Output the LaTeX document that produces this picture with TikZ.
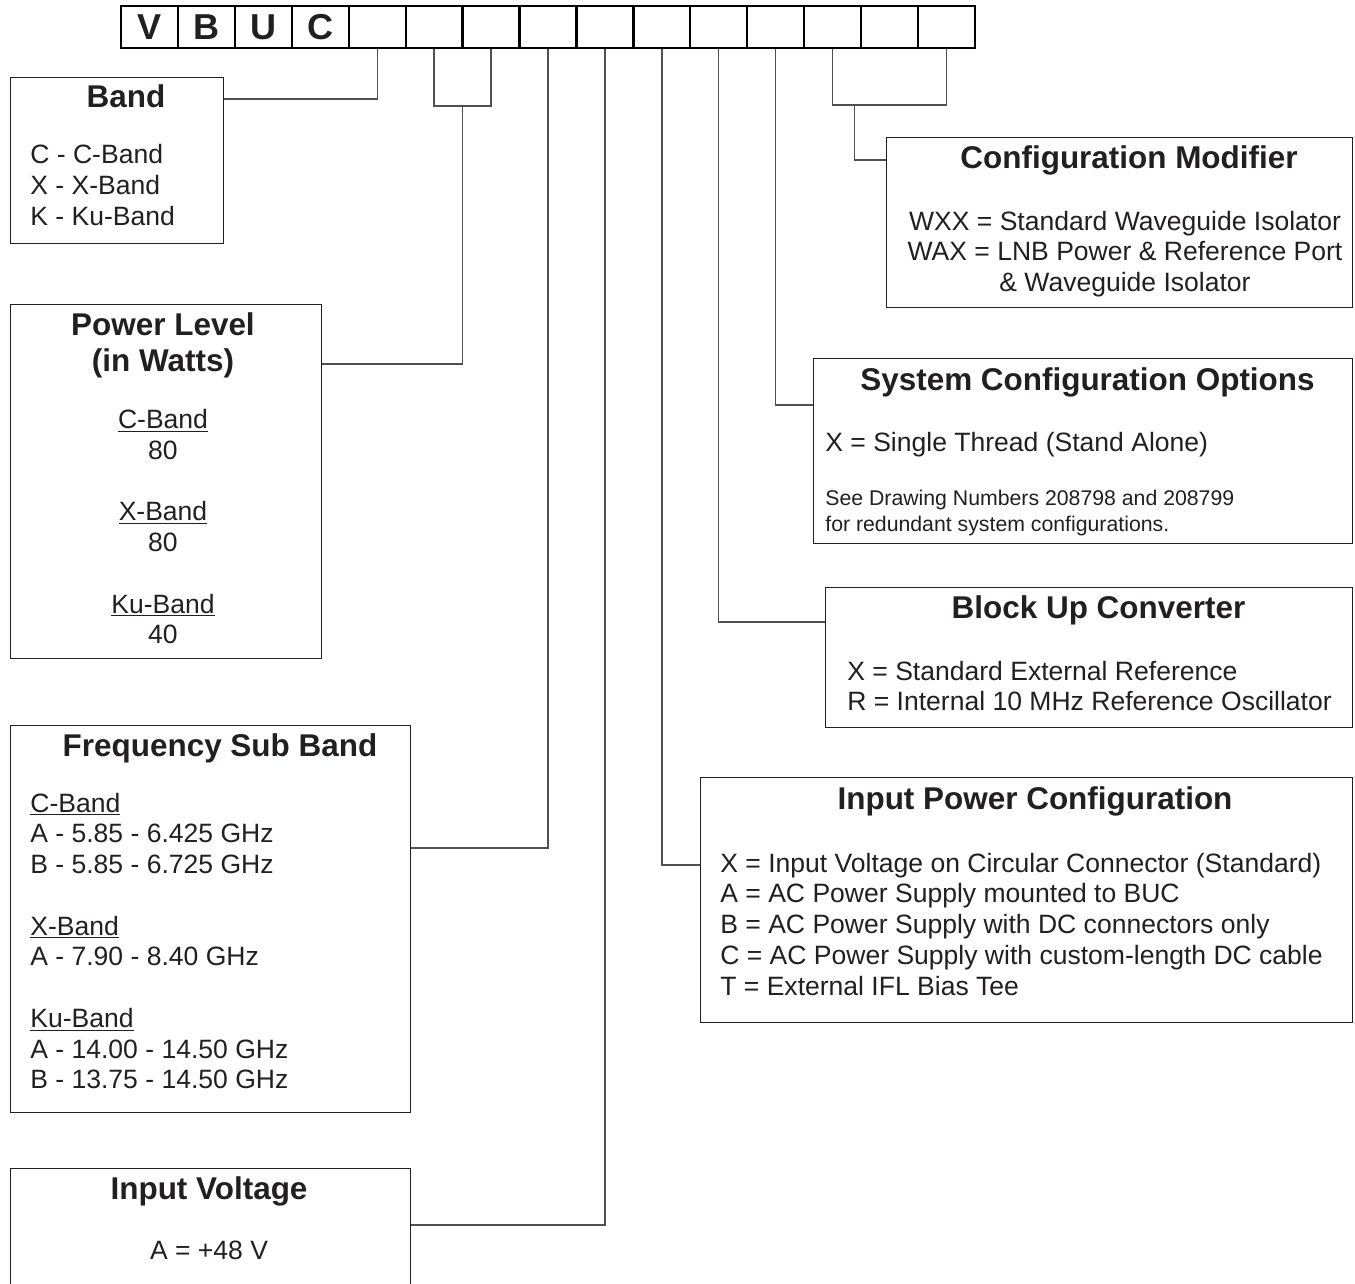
\documentclass[tikz,border=0pt]{standalone}
\usepackage{fontspec}
\setmainfont{Liberation Sans}
\usetikzlibrary{positioning,calc}

\definecolor{ink}{HTML}{231F20}
\definecolor{wire}{HTML}{505050}

\newcommand{\ttlfont}{\fontsize{17.9}{20.5}\selectfont\bfseries}
\newcommand{\txtfont}{\fontsize{15.1}{17.5}\selectfont}
\newcommand{\smlfont}{\fontsize{12.1}{14.8}\selectfont}

\begin{document}
\begin{tikzpicture}[
    x=0.02cm, y=-0.02cm,
    cell/.style={rectangle, draw=black, line width=1.3pt, minimum width=1.1386cm, minimum height=0.84cm, inner sep=0pt, font=\fontsize{20.5}{24}\selectfont\bfseries, text=ink},
    box/.style={rectangle, draw=ink, line width=0.7pt, anchor=north west, inner sep=0pt},
    title/.style={anchor=north, inner sep=0pt, font=\ttlfont, text=ink, align=center},
    body/.style={anchor=north west, inner sep=0pt, font=\txtfont, text=ink, align=left},
    link/.style={draw=wire, line width=0.75pt}
]
\useasboundingbox (0,0) rectangle (1355,1284);
\clip (0,0) rectangle (1355,1284);

% code cells
\foreach \ch [count=\i] in {V,B,U,C,{},{},{},{},{},{},{},{},{},{},{}}
    \node[cell] (c\i) at ({121+56.93*(\i-0.5)},27) {\ch};

% boxes
\node[box, minimum width=4.26cm, minimum height=3.32cm] (band) at (10,77) {};
\node[box, minimum width=6.22cm, minimum height=7.08cm] (pw) at (10,304) {};
\node[box, minimum width=8.0cm, minimum height=7.74cm] (freq) at (10,725) {};
\node[box, minimum width=8.0cm, minimum height=3.0cm] (volt) at (10,1168) {};
\node[box, minimum width=9.32cm, minimum height=3.4cm] (cfg) at (886,137) {};
\node[box, minimum width=10.78cm, minimum height=3.7cm] (sys) at (813,358) {};
\node[box, minimum width=10.54cm, minimum height=2.8cm] (buc) at (825,587) {};
\node[box, minimum width=13.04cm, minimum height=4.9cm] (ipc) at (700,777) {};

% titles
\node[title] (band-t) at (126,84.4) {Band};
\node[title] (pw-t) at (163,312.4) {Power Level\\(in Watts)};
\node[title] (freq-t) at (220,733.4) {Frequency Sub Band};
\node[title] (volt-t) at (209,1176.4) {Input Voltage};
\node[title] (cfg-t) at (1129,145.4) {Configuration Modifier};
\node[title] (sys-t) at (1087.5,367.4) {System Configuration Options};
\node[title] (buc-t) at (1098.5,595.4) {Block Up Converter};
\node[title] (ipc-t) at (1035,786.4) {Input Power Configuration};

% texts
\node[body] (band-b) at (30,144) {C - C-Band\\X - X-Band\\K - Ku-Band};
\node[body, anchor=north, align=center] (pw-b) at (163,409)
    {\underline{C-Band}\\80\\[17.5pt]\underline{X-Band}\\80\\[17.5pt]\underline{Ku-Band}\\40};
\node[body] (freq-b) at (30,792.5)
    {\underline{C-Band}\\A - 5.85 - 6.425 GHz\\B - 5.85 - 6.725 GHz\\[17.5pt]
     \underline{X-Band}\\A - 7.90 - 8.40 GHz\\[17.5pt]
     \underline{Ku-Band}\\A - 14.00 - 14.50 GHz\\B - 13.75 - 14.50 GHz};
\node[body, anchor=north, align=center] (volt-b) at (209,1241) {A = +48 V};
\node[body, anchor=north, align=center] (cfg-b) at (1125,210.5)
    {WXX = Standard Waveguide Isolator\\WAX = LNB Power \& Reference Port\\\& Waveguide Isolator};
\node[body] (sys-b) at (825,432) {X = Single Thread (Stand Alone)};
\node[body, font=\smlfont] (sys-n) at (825,490)
    {See Drawing Numbers 208798 and 208799\\for redundant system configurations.};
\node[body] (buc-b) at (847,660.5)
    {X = Standard External Reference\\R = Internal 10 MHz Reference Oscillator};
\node[body] (ipc-b) at (720,852.5)
    {X = Input Voltage on Circular Connector (Standard)\\A = AC Power Supply mounted to BUC\\
     B = AC Power Supply with DC connectors only\\C = AC Power Supply with custom-length DC cable\\
     T = External IFL Bias Tee};

% connectors
\draw[link] (c5.south) |- ([yshift=-0.44cm]band.north east);
\draw[link] (c6.south) -- ++(0,57) coordinate (pw-l) -| (c7.south);
\draw[link] ($(pw-l)!0.5!(pw-l -| c7.south)$) |- ([yshift=-1.2cm]pw.north east);
\draw[link] (c8.south) |- ([yshift=-2.46cm]freq.north east);
\draw[link] (c9.south) |- ([yshift=-1.14cm]volt.north east);
\draw[link] (c10.south) |- ([yshift=-1.76cm]ipc.north west);
\draw[link] (c11.south) |- ([yshift=-0.7cm]buc.north west);
\draw[link] (c12.south) |- ([yshift=-0.94cm]sys.north west);
\draw[link] (c13.south) -- ++(0,56) coordinate (cfg-l) -| (c15.south);
\draw[link] ([xshift=0.44cm]cfg-l) |- ([yshift=-0.46cm]cfg.north west);
\end{tikzpicture}
\end{document}
